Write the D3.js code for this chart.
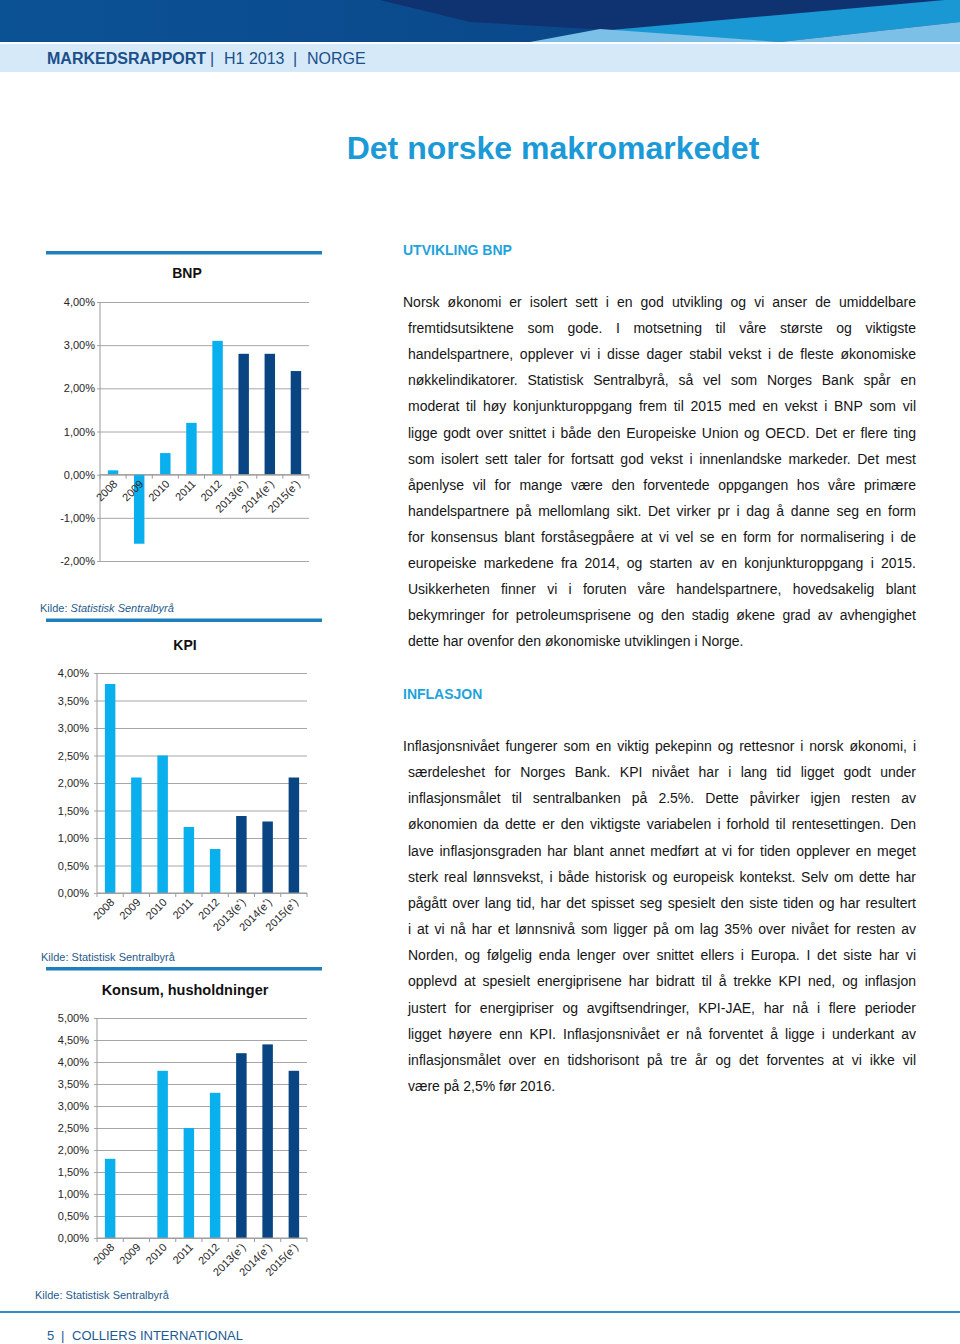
<!DOCTYPE html>
<html><head><meta charset="utf-8">
<script src="https://cdn.jsdelivr.net/npm/d3@7"></script>
<style>
body{margin:0;background:#fff;}
svg{display:block;font-family:Arial,"Liberation Sans",Helvetica,sans-serif;}
</style>
</head><body>
<svg id="page" width="960" height="1344"></svg>
<script>
// ---------- DATA ----------
const categories = ["2008","2009","2010","2011","2012","2013(e*)","2014(e*)","2015(e*)"];
const isForecast = [false,false,false,false,false,true,true,true];
const bnpValues = [0.1,-1.6,0.5,1.2,3.1,2.8,2.8,2.4];
const kpiValues = [3.8,2.1,2.5,1.2,0.8,1.4,1.3,2.1];
const konsumValues = [1.8,0,3.8,2.5,3.3,4.2,4.4,3.8];
const bnpTicks = [-2,-1,0,1,2,3,4];
const kpiTicks = [0,0.5,1,1.5,2,2.5,3,3.5,4];
const konsumTicks = [0,0.5,1,1.5,2,2.5,3,3.5,4,4.5,5];

const para1 = [
"Norsk økonomi er isolert sett i en god utvikling og vi anser de umiddelbare",
"fremtidsutsiktene som gode. I motsetning til våre største og viktigste",
"handelspartnere, opplever vi i disse dager stabil vekst i de fleste økonomiske",
"nøkkelindikatorer. Statistisk Sentralbyrå, så vel som Norges Bank spår en",
"moderat til høy konjunkturoppgang frem til 2015 med en vekst i BNP som vil",
"ligge godt over snittet i både den Europeiske Union og OECD. Det er flere ting",
"som isolert sett taler for fortsatt god vekst i innenlandske markeder. Det mest",
"åpenlyse vil for mange være den forventede oppgangen hos våre primære",
"handelspartnere på mellomlang sikt. Det virker pr i dag å danne seg en form",
"for konsensus blant forståsegpåere at vi vel se en form for normalisering i de",
"europeiske markedene fra 2014, og starten av en konjunkturoppgang i 2015.",
"Usikkerheten finner vi i foruten våre handelspartnere, hovedsakelig blant",
"bekymringer for petroleumsprisene  og den stadig økene grad av avhengighet",
"dette har ovenfor den økonomiske utviklingen i Norge."
];
const para2 = [
"Inflasjonsnivået fungerer som en viktig pekepinn og rettesnor i norsk økonomi, i",
"særdeleshet for Norges Bank. KPI nivået har i lang tid ligget godt under",
"inflasjonsmålet til sentralbanken på 2.5%. Dette påvirker igjen resten av",
"økonomien da dette er den viktigste variabelen i forhold til rentesettingen. Den",
"lave inflasjonsgraden har blant annet medført at vi for tiden opplever en meget",
"sterk real lønnsvekst, i både historisk og europeisk kontekst. Selv om dette har",
"pågått over lang tid, har det spisset seg spesielt den siste tiden og har resultert",
"i at vi nå har et lønnsnivå som ligger på om lag 35% over nivået for resten av",
"Norden, og følgelig enda lenger over snittet ellers i Europa. I det siste har vi",
"opplevd at spesielt energiprisene har bidratt til å trekke KPI ned, og inflasjon",
"justert for energipriser og avgiftsendringer, KPI-JAE,  har nå i flere perioder",
"ligget høyere enn KPI. Inflasjonsnivået er nå forventet å ligge i underkant av",
"inflasjonsmålet  over en tidshorisont på tre år og det forventes at vi ikke vil",
"være på 2,5% før 2016."
];

// ---------- PAGE ----------
const svg = d3.select("#page");
const defs = svg.append("defs");
const grad = defs.append("linearGradient").attr("id","hdr").attr("x1","0").attr("x2","1").attr("y1","0").attr("y2","0");
grad.append("stop").attr("offset","0").attr("stop-color","#0b5295");
grad.append("stop").attr("offset","0.5").attr("stop-color","#0a4a8c");
grad.append("stop").attr("offset","1").attr("stop-color","#0c3f80");

svg.append("rect").attr("x",0).attr("y",0).attr("width",960).attr("height",42).attr("fill","url(#hdr)");
svg.append("polygon").attr("points","380,0 945,0 610,30 470,22").attr("fill","#0f3270");
svg.append("polygon").attr("points","600,31 945,0 960,0 960,22 780,42").attr("fill","#1a98d4");
svg.append("polygon").attr("points","530,42 600,29 780,42").attr("fill","#7cc0e8");
svg.append("polygon").attr("points","780,42 960,22 960,42").attr("fill","#7cc0e8");
svg.append("rect").attr("x",0).attr("y",44).attr("width",960).attr("height",28).attr("fill","#d5e9f8");

const hdr = svg.append("text").attr("x",47).attr("y",64).attr("font-size",16).attr("fill","#1b4f8a");
hdr.append("tspan").attr("font-weight","bold").text("MARKEDSRAPPORT");
hdr.append("tspan").attr("x",210).text("|");
hdr.append("tspan").attr("x",224).text("H1 2013");
hdr.append("tspan").attr("x",293).text("|");
hdr.append("tspan").attr("x",307).text("NORGE");

svg.append("text").attr("x",553).attr("y",159).attr("text-anchor","middle")
  .attr("font-size",32).attr("font-weight","bold").attr("fill","#1b9ad7").text("Det norske makromarkedet");

// separators
const sepColor = "#1d7fbb";
[[251],[618.5],[967]].forEach(([y])=>{
  svg.append("rect").attr("x",46).attr("y",y).attr("width",276).attr("height",3.5).attr("fill",sepColor);
});
svg.append("line").attr("x1",0).attr("x2",960).attr("y1",1312).attr("y2",1312).attr("stroke","#2b8fce").attr("stroke-width",2);
const ft = svg.append("text").attr("x",47).attr("y",1340).attr("font-size",13).attr("fill","#1c5a93");
ft.append("tspan").text("5");
ft.append("tspan").attr("x",61).text("|");
ft.append("tspan").attr("x",72).text("COLLIERS INTERNATIONAL");

// ---------- CHARTS ----------
const fmt = v => d3.format(".2f")(v).replace(".",",").replace("\u2212","-") + "%";
const lightC = "#0aafee", darkC = "#084582";

function drawChart(c){
  const g = svg.append("g");
  const x = d3.scaleBand().domain(categories).range([c.x0,c.x1]).paddingInner(0.6).paddingOuter(0.3);
  const y = d3.scaleLinear().domain(c.domain).range([c.yBottom,c.yTop]);
  // gridlines + y labels
  const ya = d3.axisLeft(y).tickValues(c.ticks).tickFormat(fmt).tickSizeInner(-(c.x1-c.x0)).tickSizeOuter(0).tickPadding(c.pad);
  const yg = g.append("g").attr("transform",`translate(${c.x0},0)`).call(ya);
  yg.select(".domain").remove();
  yg.selectAll(".tick line").attr("stroke","#a6a6a6").attr("x1",-3);
  yg.selectAll(".tick text").attr("font-size",11).attr("fill","#262626").attr("font-family","Arial, 'Liberation Sans', sans-serif");
  // y axis line
  g.append("line").attr("x1",c.x0).attr("x2",c.x0).attr("y1",c.yTop).attr("y2",c.yBottom).attr("stroke","#9a9a9a");
  // bars
  g.selectAll("rect.bar").data(c.values).join("rect").attr("class","bar")
    .attr("x",(d,i)=>x(categories[i]))
    .attr("width",x.bandwidth())
    .attr("y",d=>y(Math.max(0,d)))
    .attr("height",d=>Math.abs(y(d)-y(0)))
    .attr("fill",(d,i)=>isForecast[i]?darkC:lightC);
  // x axis at zero
  const y0 = y(0);
  g.append("line").attr("x1",c.x0).attr("x2",c.x1).attr("y1",y0).attr("y2",y0).attr("stroke","#9a9a9a");
  const step = x.step();
  d3.range(categories.length+1).forEach(i=>{
    const xx = c.x0 + i*step;
    g.append("line").attr("x1",xx).attr("x2",xx).attr("y1",y0).attr("y2",y0+4).attr("stroke","#9a9a9a");
  });
  // x labels
  categories.forEach((cat,i)=>{
    const cx = x(cat)+x.bandwidth()/2;
    const t = g.append("text").attr("transform",`translate(${cx+5},${y0+10}) rotate(-45)`)
      .attr("text-anchor","end").attr("font-size",11).attr("fill","#262626");
    if(cat.includes("*")){
      const base = cat.replace("*)","");
      t.append("tspan").text(base);
      t.append("tspan").attr("font-size",7).attr("dy",-4).text("*");
      t.append("tspan").attr("dy",4).text(")");
    } else t.text(cat);
  });
  // title
  g.append("text").attr("x",c.titleX).attr("y",c.titleY).attr("text-anchor","middle")
    .attr("font-size",c.titleSize).attr("font-weight","bold").attr("fill","#111").text(c.title);
  // source
  const k = g.append("text").attr("x",c.kildeX).attr("y",c.kildeY).attr("font-size",11).attr("fill","#1f5b8c");
  k.append("tspan").text("Kilde: ");
  k.append("tspan").attr("font-style",c.italic?"italic":"normal").text("Statistisk Sentralbyrå");
}

drawChart({title:"BNP",titleX:187,titleY:278,titleSize:14,values:bnpValues,ticks:bnpTicks,domain:[-2,4],
  x0:100,x1:309,yTop:302,yBottom:561,pad:5,kildeX:40,kildeY:612,italic:true});
drawChart({title:"KPI",titleX:185,titleY:650,titleSize:14,values:kpiValues,ticks:kpiTicks,domain:[0,4],
  x0:97,x1:307,yTop:673,yBottom:893,pad:8,kildeX:41,kildeY:961,italic:false});
drawChart({title:"Konsum, husholdninger",titleX:185,titleY:995,titleSize:14.5,values:konsumValues,ticks:konsumTicks,domain:[0,5],
  x0:97,x1:307,yTop:1018,yBottom:1238,pad:8,kildeX:35,kildeY:1299,italic:false});

// ---------- TEXT COLUMN ----------
const headColor = "#1fa3dc";
svg.append("text").attr("x",403).attr("y",255).attr("font-size",14).attr("font-weight","bold").attr("fill",headColor).text("UTVIKLING BNP");
svg.append("text").attr("x",403).attr("y",699).attr("font-size",14).attr("font-weight","bold").attr("fill",headColor).text("INFLASJON");

const meas = svg.append("text").attr("font-size",14).attr("x",-1000).attr("y",-1000);
function wWidth(s){ meas.text(s); return meas.node().getComputedTextLength(); }
function drawPara(lines, xFirst, xRest, xRight, yStart, lh){
  const g = svg.append("g").attr("font-size",14).attr("fill","#151515");
  lines.forEach((line,li)=>{
    const xs = li===0?xFirst:xRest;
    const yy = yStart + li*lh;
    const words = line.split(/ +/);
    if(li===lines.length-1){
      g.append("text").attr("x",xs).attr("y",yy).text(words.join(" "));
      return;
    }
    const widths = words.map(wWidth);
    const total = d3.sum(widths);
    const gap = (xRight - xs - total)/(words.length-1);
    let cx = xs;
    words.forEach((w,i)=>{
      g.append("text").attr("x",cx).attr("y",yy).text(w);
      cx += widths[i] + gap;
    });
  });
}
drawPara(para1, 403, 408, 916, 307, 26.1);
drawPara(para2, 403, 408, 916, 751, 26.15);
meas.remove();
</script>
</body></html>
